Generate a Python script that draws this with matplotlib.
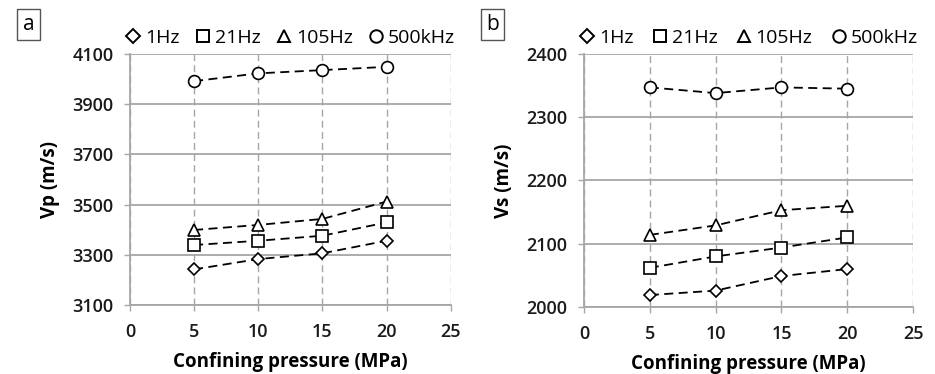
import matplotlib
matplotlib.use("Agg")
import matplotlib.pyplot as plt
from matplotlib.lines import Line2D

plt.rcParams["font.family"] = ["Open Sans", "DejaVu Sans"]

pressure = [5, 10, 15, 20]
series_names = ["1Hz", "21Hz", "105Hz", "500kHz"]
series_markers = ["D", "s", "^", "o"]

# panel a: Vp (m/s)
vp_1hz = [3242, 3283, 3306, 3356]
vp_21hz = [3339, 3356, 3376, 3429]
vp_105hz = [3399, 3419, 3443, 3512]
vp_500khz = [3992, 4023, 4036, 4049]

# panel b: Vs (m/s)
vs_1hz = [2019, 2026, 2049, 2060]
vs_21hz = [2062, 2080, 2094, 2110]
vs_105hz = [2114, 2129, 2153, 2160]
vs_500khz = [2347, 2338, 2347, 2345]

grid_color = "#a6a6a6"

fig = plt.figure(figsize=(9.35, 3.74), dpi=100)
ax_a = fig.add_axes([0.139, 0.1845, 0.343, 0.671])
ax_b = fig.add_axes([0.6246, 0.179, 0.352, 0.677])


def draw_panel(ax, data, ylim, yticks, ylabel, tag, tag_x):
    for vals, mk in zip(data, series_markers):
        ms = 6.5 if mk == "D" else 8.5
        ax.plot(pressure, vals, linestyle=(0, (5, 3)), color="black", lw=1.3,
                marker=mk, markersize=ms, markerfacecolor="white",
                markeredgecolor="black", markeredgewidth=1.2, zorder=3)
    ax.set_xlim(0, 25)
    ax.set_ylim(*ylim)
    ax.set_xticks([0, 5, 10, 15, 20, 25])
    ax.set_yticks(yticks)
    ax.yaxis.grid(True, color=grid_color, lw=1.3, linestyle="-")
    ax.xaxis.grid(True, color=grid_color, lw=1.0, linestyle=(0, (5, 3)))
    ax.set_axisbelow(True)
    for side in ["top", "right"]:
        ax.spines[side].set_visible(False)
    for side in ["left", "bottom"]:
        ax.spines[side].set_color(grid_color)
        ax.spines[side].set_linewidth(1.3)
    ax.tick_params(axis="both", colors=grid_color, length=4, width=1.0,
                   labelsize=13, labelcolor="#1a1a1a")
    ax.tick_params(axis="x", pad=9)
    ax.tick_params(axis="y", pad=8)
    for lbl in ax.get_xticklabels() + ax.get_yticklabels():
        lbl.set_fontweight("semibold")
    ax.set_xlabel("Confining pressure (MPa)", fontsize=13.5, fontweight="bold",
                  labelpad=8)
    ax.set_ylabel(ylabel, fontsize=13.5, fontweight="bold", labelpad=9)

    handles = [Line2D([], [], linestyle="none", marker=mk,
                      markersize=7 if mk == "D" else 9,
                      markerfacecolor="white", markeredgecolor="black",
                      markeredgewidth=1.4) for mk in series_markers]
    ax.legend(handles, series_names, loc="lower left", ncol=4,
              bbox_to_anchor=(-0.02, 1.02, 1.04, 0.1), mode="expand",
              frameon=False, fontsize=14, handlelength=0.8,
              handletextpad=0.2, borderaxespad=0.0, borderpad=0.1)

    fig.text(tag_x, 0.935, tag, fontsize=15, ha="center", va="center",
             bbox=dict(boxstyle="square,pad=0.25", facecolor="white",
                       edgecolor="#555555", lw=1.0))


draw_panel(ax_a, [vp_1hz, vp_21hz, vp_105hz, vp_500khz], (3100, 4100),
           [3100, 3300, 3500, 3700, 3900, 4100], "Vp (m/s)", "a", 0.0305)
draw_panel(ax_b, [vs_1hz, vs_21hz, vs_105hz, vs_500khz], (2000, 2400),
           [2000, 2100, 2200, 2300, 2400], "Vs (m/s)", "b", 0.527)

fig.savefig("out.png", dpi=100)
